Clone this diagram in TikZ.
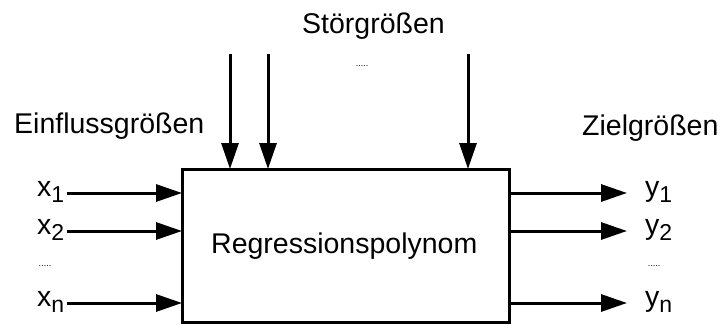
\documentclass[tikz,border=0pt]{standalone}
\usepackage{fontspec}
\setmainfont{Liberation Sans}
\usetikzlibrary{arrows.meta}
\newcommand{\lbl}[2]{#1\raisebox{-6pt}{\fontsize{23}{23}\selectfont #2}}
\begin{document}
\begin{tikzpicture}[x=1pt,y=-1pt,
  big/.style={font=\fontsize{28.5}{30}\selectfont, inner sep=0pt, anchor=base west},
  dots/.style={font=\fontsize{9}{9}\selectfont, inner sep=0pt},
  arr/.style={line width=3pt, -{Triangle[length=26pt,width=17pt]}},
  boxstyle/.style={draw, line width=3pt, minimum width=327pt, minimum height=153pt, inner sep=0pt, outer sep=0pt}]
\useasboundingbox (0,0) rectangle (725,324);
\node[boxstyle] (box) at (345.5,245.5) {};
\node[big] (reg) at (211,253) {Regressionspolynom};
\node[big] (stoer) at (302,33) {Störgrößen};
\node[big] (ein) at (14,133) {Einflussgrößen};
\node[big] (ziel) at (582,135) {Zielgrößen};
% inputs
\node[big] (x1) at (37,196) {\lbl{x}{1}};
\node[big] (x2) at (37,234) {\lbl{x}{2}};
\node[big] (xn) at (37,306) {\lbl{x}{n}};
\node[dots] (xd) at (45,266) {.....};
\coordinate (i1) at (67,193);
\coordinate (i2) at (67,231);
\coordinate (in) at (67,303);
\draw[arr] (i1) -- (i1 -| box.west);
\draw[arr] (i2) -- (i2 -| box.west);
\draw[arr] (in) -- (in -| box.west);
% outputs
\coordinate (o1) at (627,193);
\coordinate (o2) at (627,231);
\coordinate (on) at (627,303);
\draw[arr] (o1 -| box.east) -- (o1);
\draw[arr] (o2 -| box.east) -- (o2);
\draw[arr] (on -| box.east) -- (on);
\node[big] (y1) at (645,196) {\lbl{y}{1}};
\node[big] (y2) at (645,234) {\lbl{y}{2}};
\node[big] (yn) at (645,306) {\lbl{y}{n}};
\node[dots] (yd) at (654,266) {.....};
% disturbances
\coordinate (s1) at (230,54);
\coordinate (s2) at (268,54);
\coordinate (s3) at (468,54);
\draw[arr] (s1) -- (s1 |- box.north);
\draw[arr] (s2) -- (s2 |- box.north);
\draw[arr] (s3) -- (s3 |- box.north);
\node[dots] (sd) at (362,66) {.....};
\end{tikzpicture}
\end{document}
